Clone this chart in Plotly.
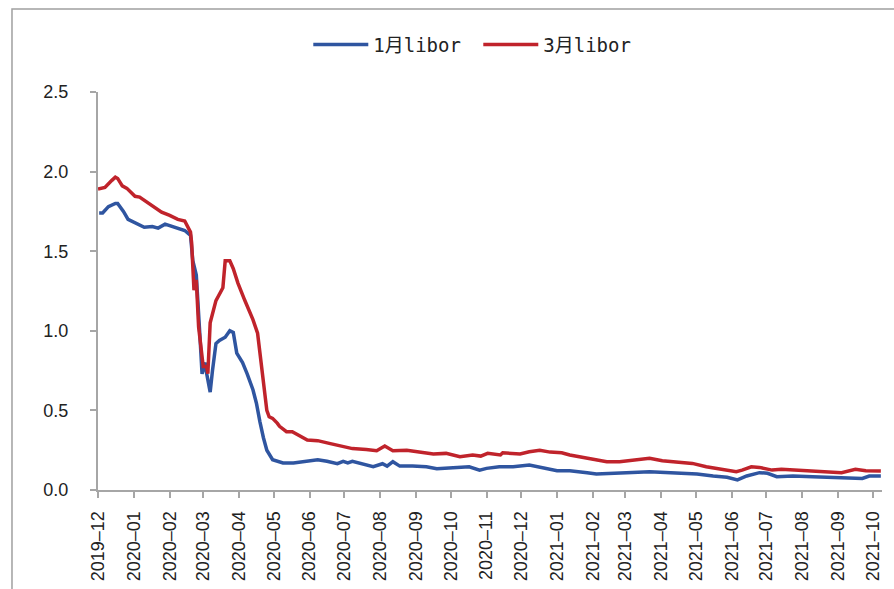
import plotly.graph_objects as go

# 1M LIBOR
dates_1m = [
    "2019-12-02", "2019-12-05", "2019-12-10", "2019-12-16", "2019-12-18", "2019-12-23", "2019-12-27",
    "2020-01-03", "2020-01-10", "2020-01-17", "2020-01-22", "2020-01-28", "2020-02-03", "2020-02-07",
    "2020-02-14", "2020-02-19", "2020-02-21", "2020-02-24", "2020-02-25", "2020-02-27", "2020-02-29",
    "2020-03-03", "2020-03-04", "2020-03-07", "2020-03-09", "2020-03-12", "2020-03-15", "2020-03-20",
    "2020-03-24", "2020-03-27", "2020-03-30", "2020-04-04", "2020-04-08", "2020-04-13", "2020-04-16",
    "2020-04-18", "2020-04-19", "2020-04-22", "2020-04-25", "2020-04-30", "2020-05-09", "2020-05-18",
    "2020-05-27", "2020-06-04", "2020-06-08", "2020-06-16", "2020-06-25", "2020-06-30", "2020-07-04",
    "2020-07-08", "2020-07-17", "2020-07-26", "2020-08-03", "2020-08-07", "2020-08-12", "2020-08-18",
    "2020-08-29", "2020-09-10", "2020-09-19", "2020-09-27", "2020-10-09", "2020-10-17", "2020-10-26",
    "2020-11-01", "2020-11-12", "2020-11-24", "2020-12-08", "2020-12-23", "2021-01-01", "2021-01-12",
    "2021-01-21", "2021-01-27", "2021-02-04", "2021-02-15", "2021-03-02", "2021-03-22", "2021-04-08",
    "2021-04-23", "2021-05-02", "2021-05-16", "2021-05-28", "2021-06-06", "2021-06-14", "2021-06-25",
    "2021-07-02", "2021-07-10", "2021-07-24", "2021-08-10", "2021-08-25", "2021-09-08", "2021-09-22",
    "2021-09-28", "2021-10-08",
]
values_1m = [
    1.74, 1.74, 1.78, 1.80, 1.80, 1.75, 1.70,
    1.675, 1.65, 1.655, 1.645, 1.67, 1.655, 1.65,
    1.63, 1.60, 1.44, 1.35, 1.19, 0.985, 0.73,
    0.80, 0.73, 0.615, 0.75, 0.92, 0.94, 0.96,
    1.00, 0.99, 0.86, 0.80, 0.73, 0.63, 0.545,
    0.46, 0.43, 0.33, 0.25, 0.19, 0.17, 0.17,
    0.178, 0.19, 0.19, 0.18, 0.165, 0.18, 0.17,
    0.18, 0.165, 0.147, 0.165, 0.15, 0.178, 0.15,
    0.15, 0.146, 0.134, 0.136, 0.142, 0.146, 0.125,
    0.136, 0.146, 0.146, 0.157, 0.136, 0.121, 0.121,
    0.115, 0.109, 0.10, 0.105, 0.109, 0.115, 0.109,
    0.105, 0.10, 0.088, 0.08, 0.063, 0.088, 0.109,
    0.105, 0.084, 0.088, 0.084, 0.08, 0.08, 0.073,
    0.088, 0.088,
]

# 3M LIBOR
dates_3m = [
    "2019-12-01", "2019-12-07", "2019-12-13", "2019-12-16", "2019-12-18", "2019-12-22", "2019-12-26",
    "2019-12-29", "2020-01-02", "2020-01-06", "2020-01-12", "2020-01-19", "2020-01-25", "2020-02-01",
    "2020-02-08", "2020-02-14", "2020-02-19", "2020-02-20", "2020-02-22", "2020-02-24", "2020-02-26",
    "2020-03-01", "2020-03-04", "2020-03-05", "2020-03-07", "2020-03-12", "2020-03-18", "2020-03-20",
    "2020-03-24", "2020-03-27", "2020-03-31", "2020-04-06", "2020-04-13", "2020-04-17", "2020-04-21",
    "2020-04-23", "2020-04-25", "2020-04-27", "2020-04-30", "2020-05-04", "2020-05-06", "2020-05-12",
    "2020-05-17", "2020-05-30", "2020-06-08", "2020-06-18", "2020-06-27", "2020-07-08", "2020-07-20",
    "2020-07-29", "2020-08-05", "2020-08-12", "2020-08-24", "2020-09-04", "2020-09-16", "2020-09-27",
    "2020-10-09", "2020-10-20", "2020-10-27", "2020-11-02", "2020-11-13", "2020-11-15", "2020-11-30",
    "2020-12-08", "2020-12-17", "2020-12-26", "2021-01-05", "2021-01-12", "2021-01-23", "2021-02-04",
    "2021-02-13", "2021-02-24", "2021-03-11", "2021-03-22", "2021-04-02", "2021-04-14", "2021-04-24",
    "2021-04-28", "2021-05-10", "2021-05-22", "2021-06-05", "2021-06-10", "2021-06-18", "2021-06-25",
    "2021-07-06", "2021-07-14", "2021-07-29", "2021-08-10", "2021-08-25", "2021-09-04", "2021-09-16",
    "2021-09-25", "2021-10-08",
]
values_3m = [
    1.89, 1.90, 1.945, 1.965, 1.957, 1.91, 1.895,
    1.87, 1.845, 1.84, 1.81, 1.78, 1.745, 1.725,
    1.70, 1.69, 1.62, 1.55, 1.255, 1.32, 1.025,
    0.775, 0.775, 0.73, 1.05, 1.19, 1.27, 1.44,
    1.44, 1.39, 1.30, 1.19, 1.07, 0.985, 0.73,
    0.58, 0.50, 0.46, 0.45, 0.42, 0.40, 0.366,
    0.366, 0.314, 0.31, 0.293, 0.276, 0.26, 0.255,
    0.247, 0.276, 0.247, 0.25, 0.24, 0.226, 0.23,
    0.209, 0.22, 0.213, 0.23, 0.22, 0.234, 0.226,
    0.24, 0.25, 0.238, 0.234, 0.22, 0.205, 0.19,
    0.178, 0.178, 0.19, 0.199, 0.184, 0.178, 0.171,
    0.167, 0.146, 0.13, 0.115, 0.125, 0.146, 0.142,
    0.125, 0.13, 0.125, 0.119, 0.111, 0.109, 0.13,
    0.121, 0.119,
]

y_ticks = [0.0, 0.5, 1.0, 1.5, 2.0, 2.5]
y_tick_labels = ["0.0", "0.5", "1.0", "1.5", "2.0", "2.5"]

fig = go.Figure()
fig.add_trace(go.Scatter(x=dates_1m, y=values_1m, mode="lines", name="1月libor",
                         line=dict(color="#2F55A0", width=3.5)))
fig.add_trace(go.Scatter(x=dates_3m, y=values_3m, mode="lines", name="3月libor",
                         line=dict(color="#C0232B", width=3.5)))

axis_col = "#A6A6A6"
fig.update_layout(
    width=894, height=589,
    margin=dict(l=98, r=12, t=92, b=99, autoexpand=False),
    paper_bgcolor="white", plot_bgcolor="white",
    showlegend=True,
    legend=dict(orientation="h", xref="container", yref="container",
                x=0.535, xanchor="center", y=0.924, yanchor="middle",
                font=dict(family="DejaVu Sans Mono, Noto Sans CJK SC", size=19, color="#222"),
                itemwidth=55, entrywidth=100, bgcolor="rgba(0,0,0,0)"),
    xaxis=dict(type="date", range=["2019-12-01", "2021-10-09"],
               tick0="2019-12-01", dtick="M1", tickformat="%Y–%m", tickangle=-90,
               showline=True, linecolor=axis_col, linewidth=2, automargin=False,
               ticks="outside", ticklen=6, tickwidth=2, tickcolor=axis_col,
               showgrid=False, zeroline=False, ticklabelstandoff=6,
               tickfont=dict(family="Liberation Sans, Arial", size=18, color="#222")),
    yaxis=dict(range=[0, 2.5], tickmode="array", tickvals=y_ticks, ticktext=y_tick_labels,
               showline=True, linecolor=axis_col, linewidth=2, automargin=False,
               ticks="outside", ticklen=6, tickwidth=2, tickcolor=axis_col,
               showgrid=False, zeroline=False, ticklabelstandoff=18,
               tickfont=dict(family="Liberation Sans, Arial", size=18, color="#222")),
    shapes=[dict(type="rect", xref="paper", yref="paper",
                 x0=-0.1097, y0=-0.4, x1=1.2, y1=1.2085,
                 line=dict(color="#A0A0A0", width=1.5), fillcolor="rgba(0,0,0,0)",
                 layer="below")],
)

fig.write_html("out.html", config={"displayModeBar": False},
               post_script="document.body.style.margin='0';")
